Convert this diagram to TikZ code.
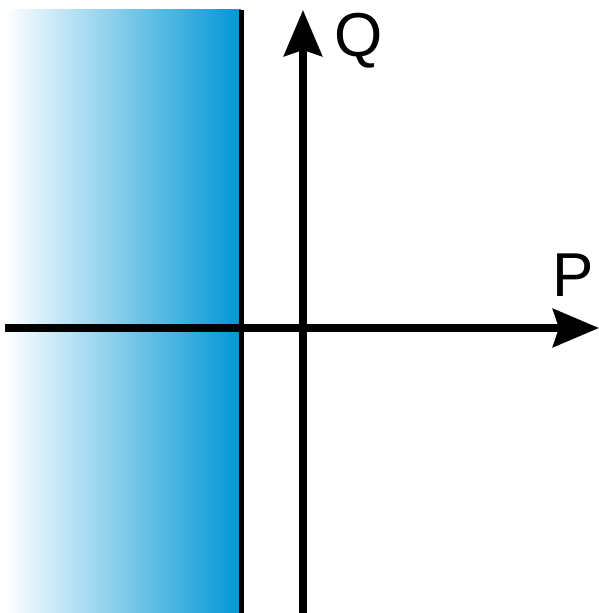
\documentclass[tikz,border=0pt]{standalone}
\usepackage{fontspec}
\setmainfont{Liberation Sans}
\usetikzlibrary{arrows.meta}
\definecolor{halfblue}{HTML}{0096D6}

\begin{document}
\begin{tikzpicture}[x=1pt, y=1pt]
    \useasboundingbox (0,0) rectangle (599,613);
    \tikzset{axis/.style={line width=7.5pt, -{Stealth[length=46pt, width=38pt, inset=6pt]}}}
    % Shaded half plane
    \shade[left color=white, right color=halfblue] (5,0) rectangle (241,603);
    \draw[line width=5pt] (241,0) coordinate (wallbot) -- (241,603) coordinate (walltop);
    % Axes
    \coordinate (qbot) at (303,0);
    \coordinate (qtop) at (303,603);
    \coordinate (pleft) at (5,285);
    \coordinate (pright) at (599,285);
    \draw[axis] (pleft) -- (pright);
    \draw[axis] (qbot) -- (qtop);
    % Labels
    \node[anchor=base, font=\fontsize{62}{66}\selectfont, inner sep=0pt] (qlabel) at (359,556) {Q};
    \node[anchor=base, font=\fontsize{62}{66}\selectfont, inner sep=0pt] (plabel) at (573,316) {P};
\end{tikzpicture}
\end{document}
